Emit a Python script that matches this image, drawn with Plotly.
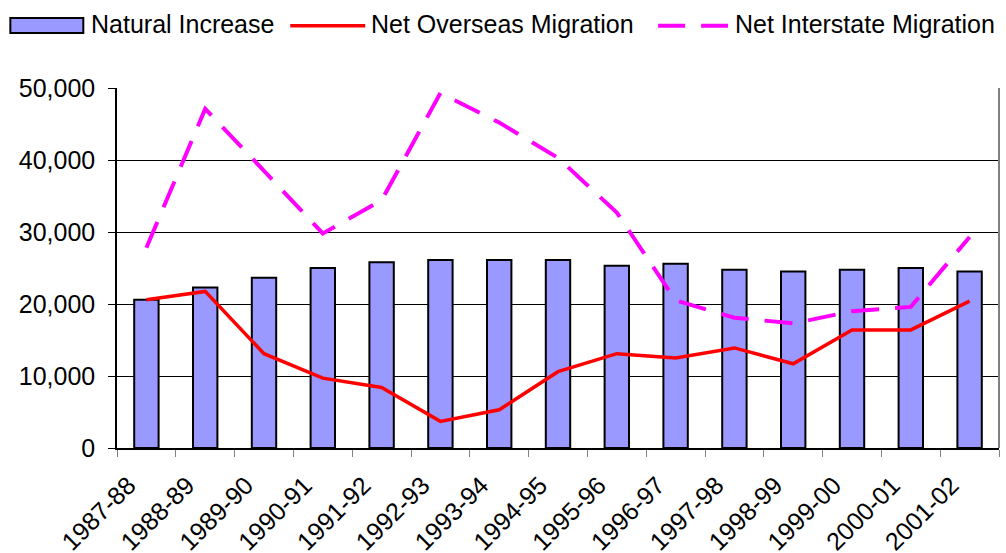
import plotly.graph_objects as go

years = ["1987-88", "1988-89", "1989-90", "1990-91", "1991-92", "1992-93", "1993-94",
         "1994-95", "1995-96", "1996-97", "1997-98", "1998-99", "1999-00", "2000-01", "2001-02"]
natural_increase = [20600, 22300, 23650, 25000, 25800, 26100, 26100, 26100,
                    25300, 25600, 24750, 24500, 24750, 25000, 24500]
net_overseas = [20600, 21750, 13100, 9700, 8400, 3700, 5300, 10600,
                13100, 12500, 13900, 11700, 16400, 16400, 20400]
net_interstate = [27800, 47100, 38500, 29800, 34400, 49300, 45200, 40300,
                  32700, 20500, 18100, 17300, 19000, 19600, 29300]

FONT = "Liberation Sans, Arial, sans-serif"

fig = go.Figure()
fig.add_trace(go.Bar(x=years, y=natural_increase, name="Natural Increase",
                     marker=dict(color="#9999FF", line=dict(color="black", width=2))))
fig.add_trace(go.Scatter(x=years, y=net_overseas, name="Net Overseas Migration", mode="lines",
                         line=dict(color="#FF0000", width=3.5)))
fig.add_trace(go.Scatter(x=years, y=net_interstate, name="Net Interstate Migration", mode="lines",
                         line=dict(color="#FF00FF", width=4, dash="28px,16px")))

L, R, T, B = 116.7, 999.0, 88.0, 448.3
W, H = 1006, 553


def px_x(p):
    return (p - L) / (R - L)


def px_y(p):
    return (B - p) / (B - T)


shapes = [
    # right plot-area border
    dict(type="line", xref="paper", yref="paper", x0=1, x1=1, y0=0, y1=1,
         line=dict(color="#808080", width=2)),
    # legend symbols
    dict(type="rect", xref="paper", yref="paper", x0=px_x(10), x1=px_x(83), y0=px_y(33), y1=px_y(18),
         fillcolor="#9999FF", line=dict(color="black", width=2)),
    dict(type="line", xref="paper", yref="paper", x0=px_x(290), x1=px_x(365), y0=px_y(25.7), y1=px_y(25.7),
         line=dict(color="#FF0000", width=3.5)),
    dict(type="line", xref="paper", yref="paper", x0=px_x(658), x1=px_x(729), y0=px_y(25.7), y1=px_y(25.7),
         line=dict(color="#FF00FF", width=4, dash="27px,16px")),
]

annotations = []
for label, xpx in [("Natural Increase", 89), ("Net Overseas Migration", 369), ("Net Interstate Migration", 733)]:
    annotations.append(dict(text=label, xref="paper", yref="paper", x=px_x(xpx), y=px_y(23.5),
                            xanchor="left", yanchor="middle", showarrow=False,
                            font=dict(family=FONT, size=25, color="black")))

fig.update_layout(
    width=W, height=H,
    margin=dict(l=L, r=W - R, t=T, b=H - B, autoexpand=False),
    paper_bgcolor="white", plot_bgcolor="white",
    showlegend=False,
    bargap=0.585,
    font=dict(family=FONT, size=24, color="black"),
    shapes=shapes,
    annotations=annotations,
)
fig.update_xaxes(type="category", tickangle=-45, tickson="boundaries", ticks="outside", ticklen=7,
                 tickcolor="#808080", showline=True, linecolor="black", linewidth=1.5,
                 showgrid=False, tickfont=dict(family=FONT, size=25, color="black"),
                 ticklabelstandoff=11, ticklabelshift=-18,
                 automargin=False)
fig.update_yaxes(range=[0, 50000], tickvals=[0, 10000, 20000, 30000, 40000, 50000],
                 tickformat=",d", ticks="outside", ticklen=7, tickcolor="black",
                 showline=True, linecolor="black", linewidth=1.5,
                 showgrid=True, gridcolor="black", gridwidth=1, zeroline=False,
                 tickfont=dict(family=FONT, size=25, color="black"), ticklabelstandoff=8,
                 automargin=False)

fig.write_html("out.html", config={"displayModeBar": False},
               post_script="document.body.style.margin='0';document.body.style.overflow='hidden';")
